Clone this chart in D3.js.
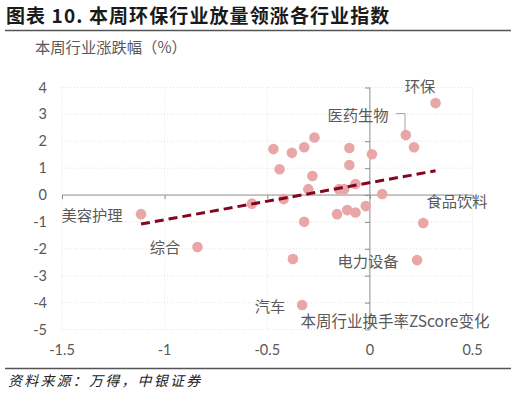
<!DOCTYPE html>
<html>
<head>
<meta charset="utf-8">
<script src="https://cdn.jsdelivr.net/npm/d3@7"></script>
<style>
  html, body { margin: 0; padding: 0; background: #fff; }
  svg { display: block; font-family: "Noto Sans CJK SC", "Noto Sans", sans-serif; }
</style>
</head>
<body>
<svg id="chart" width="516" height="395"></svg>
<script>
// ── Data ────────────────────────────────────────────────────────────────
// x: weekly turnover Z-score change, y: weekly industry return (%)
const turnoverZ = [
  0.32, 0.175, 0.215, 0.01, 0.06, -0.02, 0.26, 0.23,
  -0.10, -0.10, -0.07, -0.15, -0.125, -0.16, -0.11, -0.07,
  -0.27, -0.32, -0.38, -0.47, -0.44, -0.28, -0.30, -0.42,
  -0.575, -0.32, -0.375, -0.33, -1.115, -0.84
];
const weeklyRet = [
  3.42, 2.23, 1.78, 1.52, 0.04, -0.41, -1.04, -2.42,
  1.75, 1.12, 0.41, 0.22, 0.22, -0.71, -0.56, -0.65,
  2.14, 1.78, 1.57, 1.71, 0.96, 0.71, 0.22, -0.15,
  -0.32, -0.99, -2.38, -4.09, -0.71, -1.93
];
// labelled industries (index into the arrays above)
const labelNames = ['环保', '医药生物', '食品饮料', '电力设备', '汽车', '美容护理', '综合'];
const labelIdx   = [0, 1, 6, 7, 27, 28, 29];

const xTicks = [-1.5, -1, -0.5, 0, 0.5];
const yTicks = [4, 3, 2, 1, 0, -1, -2, -3, -4, -5];

// ── Layout ──────────────────────────────────────────────────────────────
const svg = d3.select('#chart');
const x = d3.scaleLinear().domain([-1.5, 0.5]).range([62, 472.5]);
const y = d3.scaleLinear().domain([-5, 4]).range([329.5, 87.5]);

const AXIS = '#8c8c8c';
const TXT  = '#595959';
const FS   = 15.3;

// title + rules
svg.append('text')
  .attr('x', 6).attr('y', 23)
  .attr('font-size', 19).attr('font-weight', 700).attr('fill', '#1a1a1a')
  .attr('letter-spacing', 1.1)
  .text('图表 10. 本周环保行业放量领涨各行业指数');
svg.append('line')
  .attr('x1', 5).attr('x2', 511).attr('y1', 30.5).attr('y2', 30.5)
  .attr('stroke', '#555').attr('stroke-width', 1.5);
svg.append('line')
  .attr('x1', 5).attr('x2', 511).attr('y1', 368.5).attr('y2', 368.5)
  .attr('stroke', '#555').attr('stroke-width', 1.5);
svg.append('text')
  .attr('x', 8).attr('y', 386)
  .attr('font-size', 14).attr('font-style', 'italic').attr('fill', '#222')
  .attr('letter-spacing', 2.2)
  .text('资料来源：万得，中银证券');

// y title
svg.append('text')
  .attr('x', 35).attr('y', 52.5)
  .attr('font-size', FS).attr('fill', TXT)
  .text('本周行业涨跌幅（%）');

// ── Gridlines (dotted) ─────────────────────────────────────────────────
const grid = svg.append('g');
yTicks.filter(t => t !== 0).forEach(t => {
  grid.append('line')
    .attr('x1', x(-1.5)).attr('x2', x(0.5))
    .attr('y1', y(t)).attr('y2', y(t))
    .attr('stroke', '#e3e3e3').attr('stroke-dasharray', '1,2');
});
xTicks.filter(t => t !== 0).forEach(t => {
  grid.append('line')
    .attr('x1', x(t)).attr('x2', x(t))
    .attr('y1', y(4)).attr('y2', y(-5))
    .attr('stroke', '#e3e3e3').attr('stroke-dasharray', '1,2');
});

// ── Axes crossing at the origin ────────────────────────────────────────
const xAxis = svg.append('g')
  .attr('transform', `translate(0,${y(0)})`)
  .call(d3.axisBottom(x).tickValues(xTicks).tickSize(4).tickFormat(''));
const yAxis = svg.append('g')
  .attr('transform', `translate(${x(0)},0)`)
  .call(d3.axisLeft(y).tickValues(yTicks).tickSize(5).tickFormat(''));
[xAxis, yAxis].forEach(g => {
  g.select('.domain').attr('stroke', AXIS).attr('stroke-width', 1);
  g.selectAll('.tick line').attr('stroke', AXIS);
});
xAxis.select('.domain').attr('d', `M${x(-1.5)},0H${x(0.5)}`);
yAxis.select('.domain').attr('d', `M0,${y(4)}V${y(-5)}`);

// tick labels placed low / left, like the source
svg.append('g').selectAll('text').data(xTicks).join('text')
  .attr('x', d => x(d)).attr('y', 355)
  .attr('text-anchor', 'middle').attr('font-size', 14.5).attr('fill', TXT)
  .attr('font-family', 'Lato, "Noto Sans", sans-serif')
  .text(d => d);
svg.append('g').selectAll('text').data(yTicks).join('text')
  .attr('x', 47).attr('y', d => y(d) + 5)
  .attr('text-anchor', 'end').attr('font-size', 14.5).attr('fill', TXT)
  .attr('font-family', 'Lato, "Noto Sans", sans-serif')
  .text(d => d);

// ── Points ─────────────────────────────────────────────────────────────
svg.append('g').selectAll('circle').data(turnoverZ).join('circle')
  .attr('cx', d => x(d))
  .attr('cy', (d, i) => y(weeklyRet[i]))
  .attr('r', 5.3)
  .attr('fill', '#e8a6a6');

// ── Linear trend (least squares) ───────────────────────────────────────
const mx = d3.mean(turnoverZ), my = d3.mean(weeklyRet);
let sxy = 0, sxx = 0;
turnoverZ.forEach((v, i) => { sxy += (v - mx) * (weeklyRet[i] - my); sxx += (v - mx) ** 2; });
const slope = sxy / sxx, icpt = my - slope * mx;
const [x0, x1] = d3.extent(turnoverZ);
svg.append('line')
  .attr('x1', x(x0)).attr('y1', y(icpt + slope * x0))
  .attr('x2', x(x1)).attr('y2', y(icpt + slope * x1))
  .attr('stroke', '#820620').attr('stroke-width', 3)
  .attr('stroke-dasharray', '9,5');

// ── Labels ─────────────────────────────────────────────────────────────
const labelPos = [[420, 86], [358, 115], [457, 201], [368, 261], [270, 306], [92, 215], [165, 247]];
svg.append('g').selectAll('text').data(labelNames).join('text')
  .attr('x', (d, i) => labelPos[i][0])
  .attr('y', (d, i) => labelPos[i][1] + 5.5)
  .attr('text-anchor', 'middle').attr('font-size', FS).attr('fill', TXT)
  .text(d => d);

// leader for 医药生物
svg.append('path')
  .attr('d', `M396,113.5H405V${y(weeklyRet[1]) - 4}`)
  .attr('fill', 'none').attr('stroke', '#a6a6a6').attr('stroke-width', 1);

// x title sits inside the plot, bottom right
svg.append('text')
  .attr('x', 395).attr('y', 326.5)
  .attr('text-anchor', 'middle').attr('font-size', 15.5).attr('fill', TXT)
  .text('本周行业换手率ZScore变化');
</script>
</body>
</html>
